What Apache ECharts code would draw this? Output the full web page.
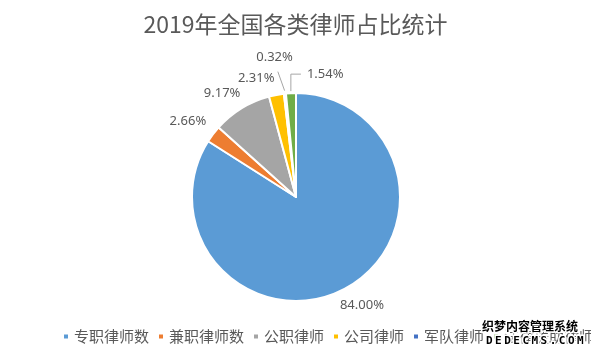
<!DOCTYPE html>
<html>
<head>
<meta charset="utf-8">
<script src="https://cdn.jsdelivr.net/npm/echarts@6/dist/echarts.min.js"></script>
<style>
html,body{margin:0;padding:0;background:#fff;}
#c{width:591px;height:356px;}
</style>
</head>
<body>
<div id="c"></div>
<script>
var titleText = '2019年全国各类律师占比统计';
var categories = ['专职律师数', '兼职律师数', '公职律师', '公司律师', '军队律师', '法律援助律师'];
var values = [84.00, 2.66, 9.17, 2.31, 0.32, 1.54];
var colors = ['#5B9BD5', '#ED7D31', '#A5A5A5', '#FFC000', '#4472C4', '#70AD47'];
var watermarkTop = '织梦内容管理系统';
var watermarkBottom = 'DEDECMS.COM';

// label nudges (Excel-like placement) relative to ECharts' default outside label
var labelShift = [[-16, 8], [6, -7], [9, -7], [5, -7], [14, -26], [58, -9]];

var chart = echarts.init(document.getElementById('c'), null, {renderer: 'canvas'});
var data = categories.map(function (name, i) {
  return {
    name: name,
    value: values[i],
    itemStyle: {color: colors[i]},
    labelLine: {show: i === 4 || i === 5}
  };
});

function labelLayout(p) {
  var i = p.dataIndex;
  var s = labelShift[i];
  var r = p.labelRect;
  var left = r.x + s[0];
  var cy = r.y + r.height / 2 + s[1];
  var out = {x: left, y: cy, align: 'left', verticalAlign: 'middle', hideOverlap: false};
  var pts = p.labelLinePoints;
  if (pts && (i === 4 || i === 5)) {
    var p0 = pts[0], p1 = pts[1];
    var dx = p1[0] - p0[0], dy = p1[1] - p0[1];
    var len = Math.sqrt(dx * dx + dy * dy) || 1;
    dx /= len; dy /= len;
    if (i === 4) {
      var st = [p0[0] + 3 * dx, p0[1] + 3 * dy];
      out.labelLinePoints = [st, [left + r.width - 15, cy + 14]];
    } else {
      var st2 = [p0[0] + 2 * dx, p0[1] + 2 * dy];
      out.labelLinePoints = [st2, [st2[0], cy], [left - 6, cy]];
    }
  }
  return out;
}

var wmChars = watermarkBottom.split('').map(function (ch, i) {
  return {
    type: 'text', x: 486 + i * 9.1, y: 336, z: 100,
    style: {text: ch, font: 'bold 11px "DejaVu Sans Mono", monospace', fill: '#000', stroke: '#fff', lineWidth: 3}
  };
});

chart.setOption({
  animation: false,
  backgroundColor: '#ffffff',
  title: {
    text: titleText,
    left: 'center',
    top: 8,
    textStyle: {
      fontFamily: '"Noto Sans CJK SC", "Noto Sans", sans-serif',
      fontSize: 23,
      fontWeight: 'normal',
      color: '#595959'
    }
  },
  legend: {
    bottom: 7,
    left: 57,
    width: 560,
    icon: 'rect',
    itemWidth: 6,
    itemHeight: 6,
    itemGap: 8,
    textStyle: {
      fontFamily: '"Noto Sans CJK SC", sans-serif',
      fontSize: 15,
      color: '#595959'
    }
  },
  graphic: [{
    type: 'text', x: 482, y: 320, z: 100,
    style: {text: watermarkTop, font: 'bold 12px "Noto Sans CJK SC", sans-serif', fill: '#000', stroke: '#fff', lineWidth: 3}
  }].concat(wmChars),
  series: [{
    type: 'pie',
    center: [296, 197],
    radius: 104,
    startAngle: 90,
    clockwise: true,
    avoidLabelOverlap: false,
    data: data,
    itemStyle: {borderColor: '#ffffff', borderWidth: 2},
    label: {
      position: 'outside',
      formatter: function (p) { return p.value.toFixed(2) + '%'; },
      fontFamily: '"Noto Sans", sans-serif',
      fontSize: 13,
      color: '#595959'
    },
    labelLine: {
      length: 10,
      length2: 0,
      lineStyle: {color: '#A6A6A6', width: 1}
    },
    labelLayout: labelLayout
  }]
});
</script>
</body>
</html>
